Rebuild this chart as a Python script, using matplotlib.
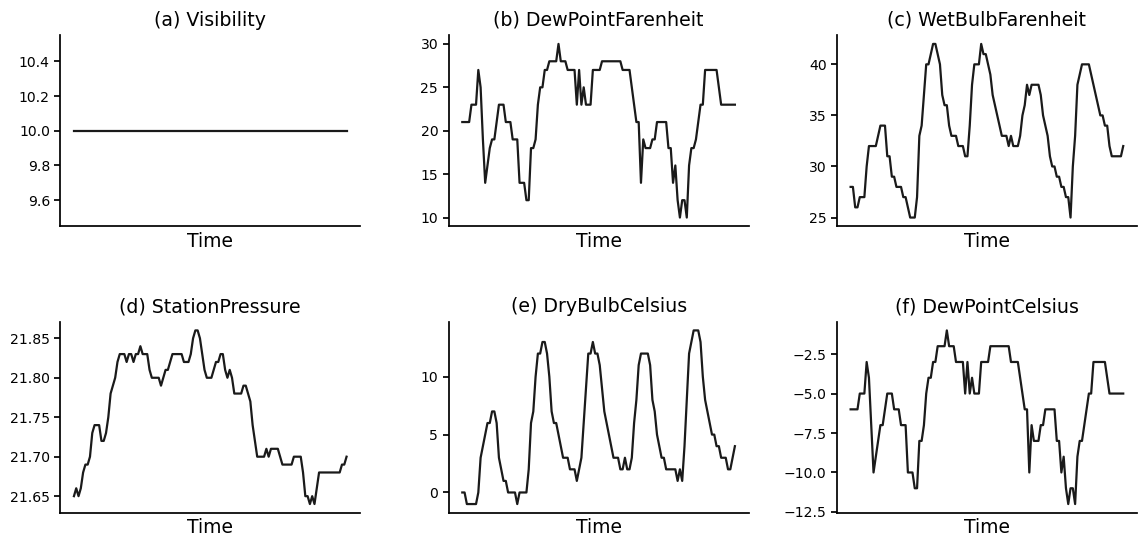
import numpy as np
import matplotlib
matplotlib.use("Agg")
import matplotlib.pyplot as plt

# hourly-ish readings, 120 samples
visibility = [10.0] * 120

dew_point_f = [
    21, 21, 21, 21, 23, 23, 23, 27, 25, 19, 14, 16, 18, 19, 19, 21, 23, 23, 23, 21,
    21, 21, 19, 19, 19, 14, 14, 14, 12, 12, 18, 18, 19, 23, 25, 25, 27, 27, 28, 28,
    28, 28, 30, 28, 28, 28, 27, 27, 27, 27, 23, 27, 23, 25, 23, 23, 23, 27, 27, 27,
    27, 28, 28, 28, 28, 28, 28, 28, 28, 28, 27, 27, 27, 27, 25, 23, 21, 21, 14, 19,
    18, 18, 18, 19, 19, 21, 21, 21, 21, 21, 18, 18, 14, 16, 12, 10, 12, 12, 10, 16,
    18, 18, 19, 21, 23, 23, 27, 27, 27, 27, 27, 27, 25, 23, 23, 23, 23, 23, 23, 23,
]

wet_bulb_f = [
    28, 28, 26, 26, 27, 27, 27, 30, 32, 32, 32, 32, 33, 34, 34, 34, 31, 31, 29, 29,
    28, 28, 28, 27, 27, 26, 25, 25, 25, 27, 33, 34, 37, 40, 40, 41, 42, 42, 41, 40,
    37, 36, 36, 34, 33, 33, 33, 32, 32, 32, 31, 31, 34, 38, 40, 40, 40, 42, 41, 41,
    40, 39, 37, 36, 35, 34, 33, 33, 33, 32, 33, 32, 32, 32, 33, 35, 36, 38, 37, 38,
    38, 38, 38, 37, 35, 34, 33, 31, 30, 30, 29, 29, 28, 28, 27, 27, 25, 30, 33, 38,
    39, 40, 40, 40, 40, 39, 38, 37, 36, 35, 35, 34, 34, 32, 31, 31, 31, 31, 31, 32,
]

station_pressure = [
    21.65, 21.66, 21.65, 21.66, 21.68, 21.69, 21.69, 21.70, 21.73, 21.74,
    21.74, 21.74, 21.72, 21.72, 21.73, 21.75, 21.78, 21.79, 21.80, 21.82,
    21.83, 21.83, 21.83, 21.82, 21.83, 21.83, 21.82, 21.83, 21.83, 21.84,
    21.83, 21.83, 21.83, 21.81, 21.80, 21.80, 21.80, 21.80, 21.79, 21.80,
    21.81, 21.81, 21.82, 21.83, 21.83, 21.83, 21.83, 21.83, 21.82, 21.82,
    21.82, 21.83, 21.85, 21.86, 21.86, 21.85, 21.83, 21.81, 21.80, 21.80,
    21.80, 21.81, 21.82, 21.82, 21.83, 21.83, 21.81, 21.80, 21.81, 21.80,
    21.78, 21.78, 21.78, 21.78, 21.79, 21.79, 21.78, 21.77, 21.74, 21.72,
    21.70, 21.70, 21.70, 21.70, 21.71, 21.70, 21.71, 21.71, 21.71, 21.71,
    21.70, 21.69, 21.69, 21.69, 21.69, 21.69, 21.70, 21.70, 21.70, 21.70,
    21.68, 21.65, 21.65, 21.64, 21.65, 21.64, 21.66, 21.68, 21.68, 21.68,
    21.68, 21.68, 21.68, 21.68, 21.68, 21.68, 21.68, 21.69, 21.69, 21.70,
]

dry_bulb_c = [
    0, 0, -1, -1, -1, -1, -1, 0, 3, 4, 5, 6, 6, 7, 7, 6, 3, 2, 1, 1,
    0, 0, 0, 0, -1, 0, 0, 0, 0, 2, 6, 7, 10, 12, 12, 13, 13, 12, 10, 7,
    6, 6, 5, 4, 3, 3, 3, 2, 2, 2, 1, 2, 3, 6, 9, 12, 12, 13, 12, 12,
    11, 9, 7, 6, 5, 4, 3, 3, 3, 2, 2, 3, 2, 2, 3, 6, 8, 11, 12, 12,
    12, 12, 11, 8, 7, 5, 4, 3, 3, 2, 2, 2, 2, 2, 1, 2, 1, 4, 8, 12,
    13, 14, 14, 14, 13, 10, 8, 7, 6, 5, 5, 4, 4, 3, 3, 3, 2, 2, 3, 4,
]

dew_point_c = [
    -6, -6, -6, -6, -5, -5, -5, -3, -4, -7, -10, -9, -8, -7, -7, -6, -5, -5, -5, -6,
    -6, -6, -7, -7, -7, -10, -10, -10, -11, -11, -8, -8, -7, -5, -4, -4, -3, -3, -2, -2,
    -2, -2, -1, -2, -2, -2, -3, -3, -3, -3, -5, -3, -5, -4, -5, -5, -5, -3, -3, -3,
    -3, -2, -2, -2, -2, -2, -2, -2, -2, -2, -3, -3, -3, -3, -4, -5, -6, -6, -10, -7,
    -8, -8, -8, -7, -7, -6, -6, -6, -6, -6, -8, -8, -10, -9, -11, -12, -11, -11, -12, -9,
    -8, -8, -7, -6, -5, -5, -3, -3, -3, -3, -3, -3, -4, -5, -5, -5, -5, -5, -5, -5,
]

titles = ['(a) Visibility', '(b) DewPointFarenheit', '(c) WetBulbFarenheit',
          '(d) StationPressure', '(e) DryBulbCelsius', '(f) DewPointCelsius']
series = [visibility, dew_point_f, wet_bulb_f, station_pressure, dry_bulb_c, dew_point_c]

fig, axes = plt.subplots(2, 3, figsize=(11.38, 5.42), dpi=100)
fig.subplots_adjust(left=0.053, right=0.999, top=0.935, bottom=0.054,
                    wspace=0.295, hspace=0.50)

for ax, title, values in zip(axes.flat, titles, series):
    ax.plot(np.arange(len(values)), values, color='#1a1a1a', linewidth=1.6)
    ax.set_title(title, fontsize=13.7, pad=7)
    ax.set_xlabel('Time', fontsize=13.5, labelpad=4)
    ax.set_xticks([])
    ax.spines['top'].set_visible(False)
    ax.spines['right'].set_visible(False)
    ax.spines['left'].set_linewidth(1.25)
    ax.spines['bottom'].set_linewidth(1.25)
    ax.tick_params(axis='y', labelsize=10.1, width=1.25, length=4)

plt.savefig('out.png')
